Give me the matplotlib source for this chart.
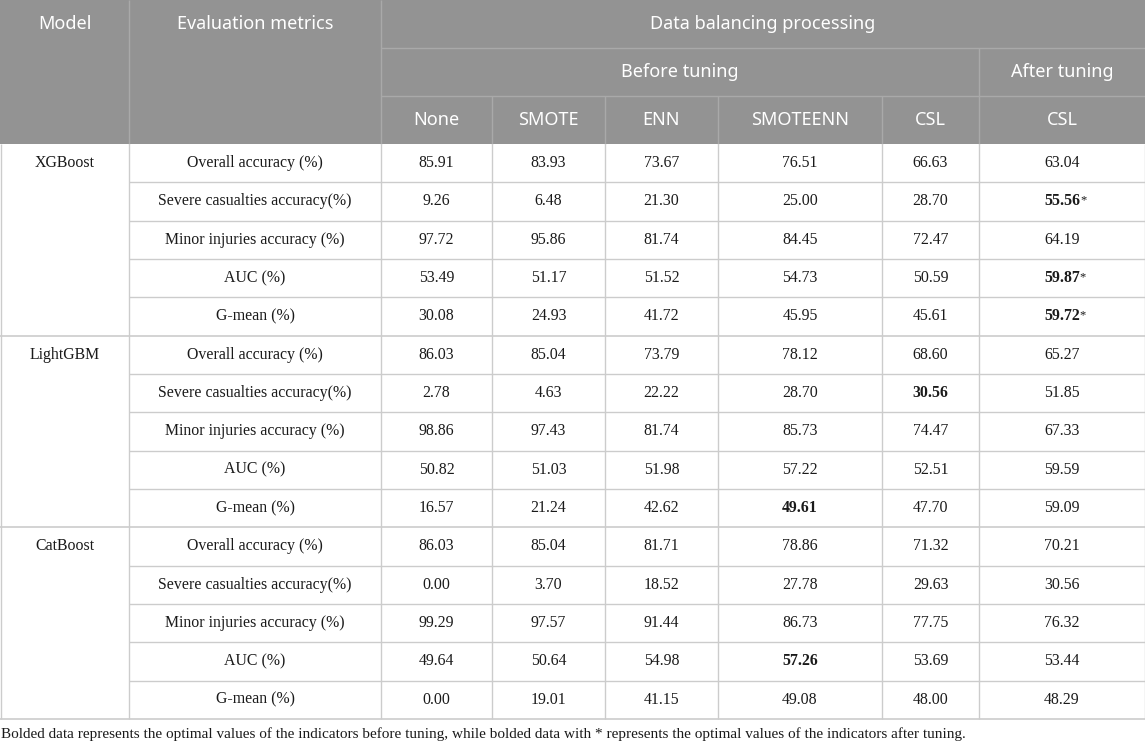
import matplotlib.pyplot as plt
from matplotlib.patches import Rectangle

models = ["XGBoost", "LightGBM", "CatBoost"]
metrics = ["Overall accuracy (%)", "Severe casualties accuracy(%)",
           "Minor injuries accuracy (%)", "AUC (%)", "G-mean (%)"]
methods = ["None", "SMOTE", "ENN", "SMOTEENN", "CSL", "CSL"]

xgb = [[85.91, 83.93, 73.67, 76.51, 66.63, 63.04],
       [9.26, 6.48, 21.30, 25.00, 28.70, 55.56],
       [97.72, 95.86, 81.74, 84.45, 72.47, 64.19],
       [53.49, 51.17, 51.52, 54.73, 50.59, 59.87],
       [30.08, 24.93, 41.72, 45.95, 45.61, 59.72]]
lgbm = [[86.03, 85.04, 73.79, 78.12, 68.60, 65.27],
        [2.78, 4.63, 22.22, 28.70, 30.56, 51.85],
        [98.86, 97.43, 81.74, 85.73, 74.47, 67.33],
        [50.82, 51.03, 51.98, 57.22, 52.51, 59.59],
        [16.57, 21.24, 42.62, 49.61, 47.70, 59.09]]
cat = [[86.03, 85.04, 81.71, 78.86, 71.32, 70.21],
       [0.00, 3.70, 18.52, 27.78, 29.63, 30.56],
       [99.29, 97.57, 91.44, 86.73, 77.75, 76.32],
       [49.64, 50.64, 54.98, 57.26, 53.69, 53.44],
       [0.00, 19.01, 41.15, 49.08, 48.00, 48.29]]
tables = [xgb, lgbm, cat]

# (model, metric row, column) -> bold, with star
bold_cells = {(0, 1, 5): True, (0, 3, 5): True, (0, 4, 5): True,
              (1, 1, 4): False, (1, 4, 3): False, (2, 3, 3): False}

footnote = ("Bolded data represents the optimal values of the indicators before tuning, "
            "while bolded data with * represents the optimal values of the indicators after tuning.")

W, H = 1145, 745
col_x = [0, 129, 381, 492, 605, 718, 882, 979, 1145]
hdr_y = [0, 48, 96, 144]
row_h = 38.33
header_bg = "#939393"
header_line = "#a9a9a9"
body_line = "#cccccc"

fig = plt.figure(figsize=(W / 100, H / 100), dpi=100)
ax = fig.add_axes([0, 0, 1, 1])
ax.set_xlim(0, W)
ax.set_ylim(H, 0)
ax.axis("off")

sans = "Noto Sans"
serif = "Liberation Serif"

# header
ax.add_patch(Rectangle((0, 0), W, hdr_y[3], color=header_bg, lw=0))
ax.hlines([hdr_y[1], hdr_y[2]], col_x[2], W, color=header_line, lw=1)
ax.vlines([col_x[1], col_x[2]], 0, hdr_y[3], color=header_line, lw=1)
ax.vlines(col_x[7], hdr_y[1], hdr_y[3], color=header_line, lw=1)
ax.vlines(col_x[3:7], hdr_y[2], hdr_y[3], color=header_line, lw=1)

hkw = dict(color="white", fontsize=13, family=sans, ha="center", va="center")
ax.text((col_x[0] + col_x[1]) / 2, 24, "Model", **hkw)
ax.text((col_x[1] + col_x[2]) / 2, 24, "Evaluation metrics", **hkw)
ax.text((col_x[2] + W) / 2, 24, "Data balancing processing", **hkw)
ax.text((col_x[2] + col_x[7]) / 2, 72, "Before tuning", **hkw)
ax.text((col_x[7] + W) / 2, 72, "After tuning", **hkw)
for j, m in enumerate(methods):
    ax.text((col_x[j + 2] + col_x[j + 3]) / 2, 120, m, **hkw)

# body
bkw = dict(color="#1a1a1a", fontsize=11.4, family=serif, ha="center", va="center")
y0 = hdr_y[3]
n = len(metrics)
for b, (model, tab) in enumerate(zip(models, tables)):
    top = y0 + b * n * row_h
    ax.text((col_x[0] + col_x[1]) / 2, top + row_h / 2, model, **bkw)
    for i, met in enumerate(metrics):
        yc = top + (i + 0.5) * row_h
        ax.text((col_x[1] + col_x[2]) / 2, yc, met, **bkw)
        for j, v in enumerate(tab[i]):
            xc = (col_x[j + 2] + col_x[j + 3]) / 2
            key = (b, i, j)
            if key in bold_cells:
                t = ax.text(xc, yc, f"{v:.2f}", fontweight="bold", **bkw)
                if bold_cells[key]:
                    ax.annotate("*", xy=(1, 0.95), xycoords=t, fontsize=9,
                                family=serif, color="#1a1a1a", va="top", ha="left")
            else:
                ax.text(xc, yc, f"{v:.2f}", **bkw)
        if i > 0:
            ax.hlines(top + i * row_h, col_x[1], W, color=body_line, lw=1)
    ax.hlines(top + n * row_h, 0, W, color=body_line, lw=1.2)

bottom = y0 + len(models) * n * row_h
ax.vlines(col_x[1:-1], y0, bottom, color=body_line, lw=1)
ax.vlines([0.5, W - 0.5], y0, bottom, color=body_line, lw=1)

ax.text(1, 734, footnote, fontsize=11, family=serif, color="#1a1a1a",
        ha="left", va="center")

fig.savefig("out.png", dpi=100)
